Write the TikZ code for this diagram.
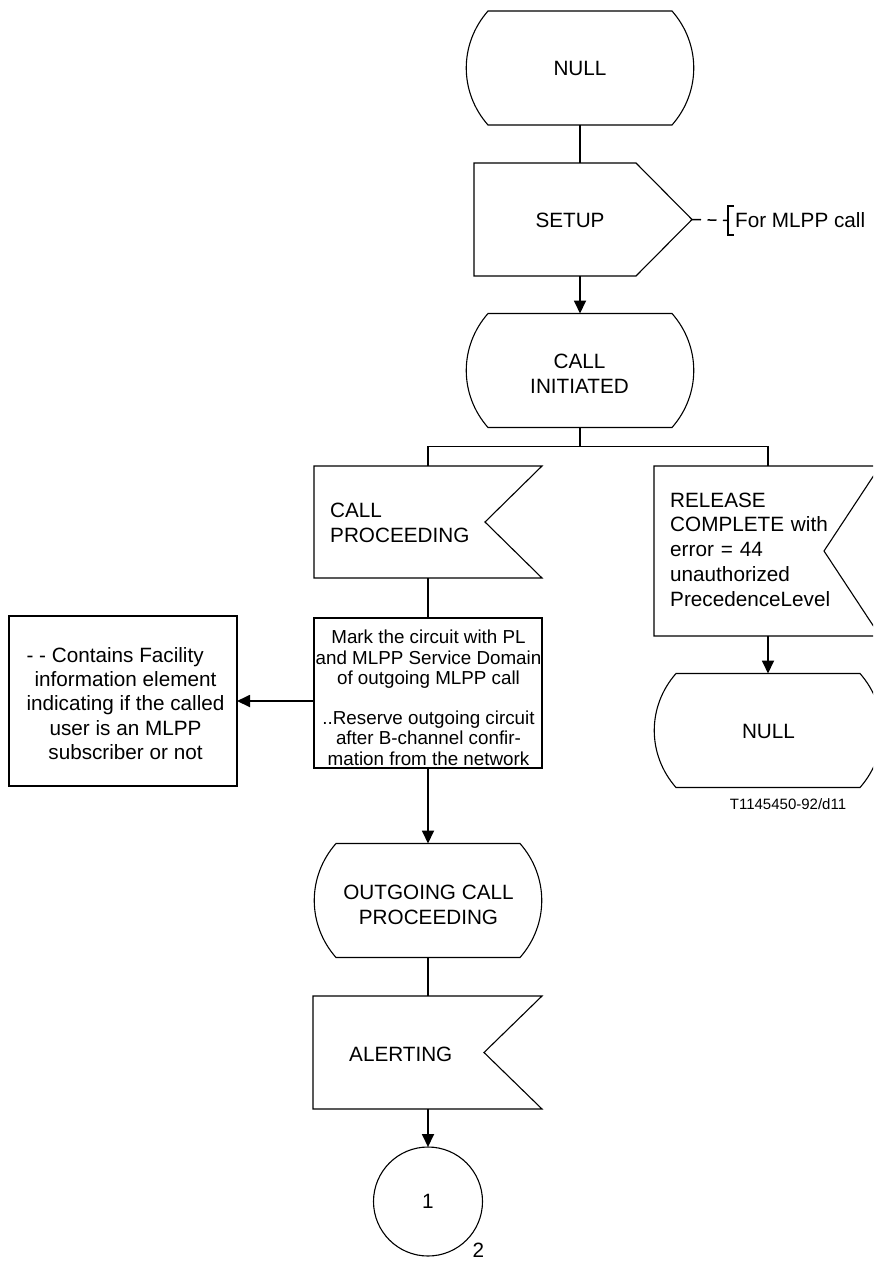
\documentclass[tikz,border=0pt]{standalone}
\usepackage{fontspec}
\setmainfont{Liberation Sans}
\usetikzlibrary{arrows.meta,calc}

\newcommand{\mainfs}{\fontsize{20.7}{25}\selectfont}
\newcommand{\relfs}{\fontsize{20.7}{24.8}\selectfont}
\newcommand{\infofs}{\fontsize{20.7}{24.3}\selectfont}
\newcommand{\taskfs}{\fontsize{18.8}{20.3}\selectfont}
\newcommand{\smallfs}{\fontsize{15}{18}\selectfont}

\newcommand{\drawstate}[3]{% name, cx, cy
  \node[anchorbox, minimum width=228pt, minimum height=114pt] (#1) at (#2,#3) {};
  \draw[outline] (#2-92,#3+57) -- (#2+92,#3+57)
     .. controls (#2+121,#3+24) and (#2+121,#3-24) .. (#2+92,#3-57)
     -- (#2-92,#3-57)
     .. controls (#2-121,#3-24) and (#2-121,#3+24) .. cycle;
}

\tikzset{
  outline/.style={line width=1.1pt, line join=miter},
  conn/.style={line width=1.8pt},
  arr/.style={conn, -{Triangle[length=13pt,width=12pt]}},
  anchorbox/.style={draw=none, inner sep=0pt, outer sep=0pt},
  boxnode/.style={draw, outline, inner sep=0pt, outer sep=0pt},
  txt/.style={font=\mainfs, align=center, inner sep=0pt},
  txtl/.style={align=left, inner sep=0pt, anchor=west},
}

\begin{document}
\begin{tikzpicture}[x=1pt,y=1pt]
\useasboundingbox (0,0) rectangle (873,-1261);
\clip (0,0) rectangle (873,-1261);

% states
\drawstate{nullA}{580}{-68}
\node[txt] (nullAt) at (580,-68) {NULL};

\drawstate{ci}{580}{-370.5}
\node[txt] (cit) at (579.5,-374) {CALL\\INITIATED};

\drawstate{nullB}{768}{-730.5}
\node[txt] (nullBt) at (768.5,-731) {NULL};

\drawstate{ocp}{428}{-900.5}
\node[txt] (ocpt) at (428.5,-904.5) {OUTGOING CALL\\PROCEEDING};

% input signal SETUP
\node[anchorbox, minimum width=212pt, minimum height=113pt] (setup) at (580,-219.5) {};
\draw[outline] (474,-163) -- (636,-163) -- (692,-219.5) -- (636,-276) -- (474,-276) -- cycle;
\coordinate (setuptip) at (692,-219.5);
\node[txt] (setupt) at (570,-220) {SETUP};

% dashed comment
\coordinate (brk) at (728,-220.5);
\draw[line width=1.5pt, dash pattern=on 9pt off 6.5pt] (setuptip) -- (brk);
\draw[line width=1.8pt] ($(brk)+(6,14.5)$) -- ($(brk)+(0,14.5)$) -- ($(brk)+(0,-14.5)$) -- ($(brk)+(6,-14.5)$);
\node[txtl, font=\mainfs] (formlpp) at (735,-220) {For MLPP call};

% output signals
\node[anchorbox, minimum width=228pt, minimum height=112pt] (cp) at (428,-522) {};
\draw[outline] (314,-466) -- (542,-466) -- (485,-522) -- (542,-578) -- (314,-578) -- cycle;
\node[txtl, font=\mainfs, text width=180pt] (cpt) at (330,-523) {CALL\\PROCEEDING};

\node[anchorbox, minimum width=228pt, minimum height=170pt] (rel) at (768,-551) {};
\draw[outline] (654,-466) -- (880,-466) -- (824,-551) -- (880,-636) -- (654,-636) -- cycle;
\node[txtl, font=\relfs, text width=200pt] (relt) at (670,-549.5) {RELEASE\\COMPLETE with\\error = 44\\unauthorized\\PrecedenceLevel};

\node[anchorbox, minimum width=230pt, minimum height=113pt] (alert) at (428,-1052.5) {};
\draw[outline] (313,-996) -- (542,-996) -- (484,-1052.5) -- (542,-1109) -- (313,-1109) -- cycle;
\node[txtl, font=\mainfs] (alertt) at (349,-1054) {ALERTING};

% task box
\node[boxnode, minimum width=228pt, minimum height=150pt] (task) at (428,-693) {};
\node[inner sep=0pt, align=center, font=\taskfs] (taskt) at (428.5,-697.7)
  {Mark the circuit with PL\\and MLPP Service Domain\\of outgoing MLPP call\\[19.7pt]..Reserve outgoing circuit\\after B-channel confir-\\mation from the network};

% info box
\node[boxnode, minimum width=228pt, minimum height=170pt] (info) at (123,-701) {};
\node[inner sep=0pt, align=center, font=\infofs] (infot) at (125.5,-703.5)
  {- - Contains Facility\hphantom{xx}\\information element\\indicating if the called\\user is an MLPP\\subscriber or not};

% connector
\node[boxnode, circle, minimum size=109pt] (conn1) at (428,-1201.5) {};
\node[txt] (conn1t) at (428,-1201.5) {1};
\node[txt, anchor=base] (pagenum) at (478.5,-1257) {2};

\node[inner sep=0pt, font=\smallfs] (ref) at (788,-804) {T1145450-92/d11};

% connectors
\draw[conn] (nullA.south) -- (setup.north);
\draw[arr] (setup.south) -- (ci.north);
\draw[conn] (ci.south) -- ++(0,-19) coordinate (br);
\draw[conn] (cp.north) |- (br) -| (rel.north);
\draw[conn] (cp.south) -- (task.north);
\draw[arr] (task.west |- info.east) -- (info.east);
\draw[arr] (task.south) -- (ocp.north);
\draw[conn] (ocp.south) -- (alert.north);
\draw[arr] (alert.south) -- (conn1.north);
\draw[arr] (rel.south) -- (nullB.north);
\end{tikzpicture}
\end{document}
